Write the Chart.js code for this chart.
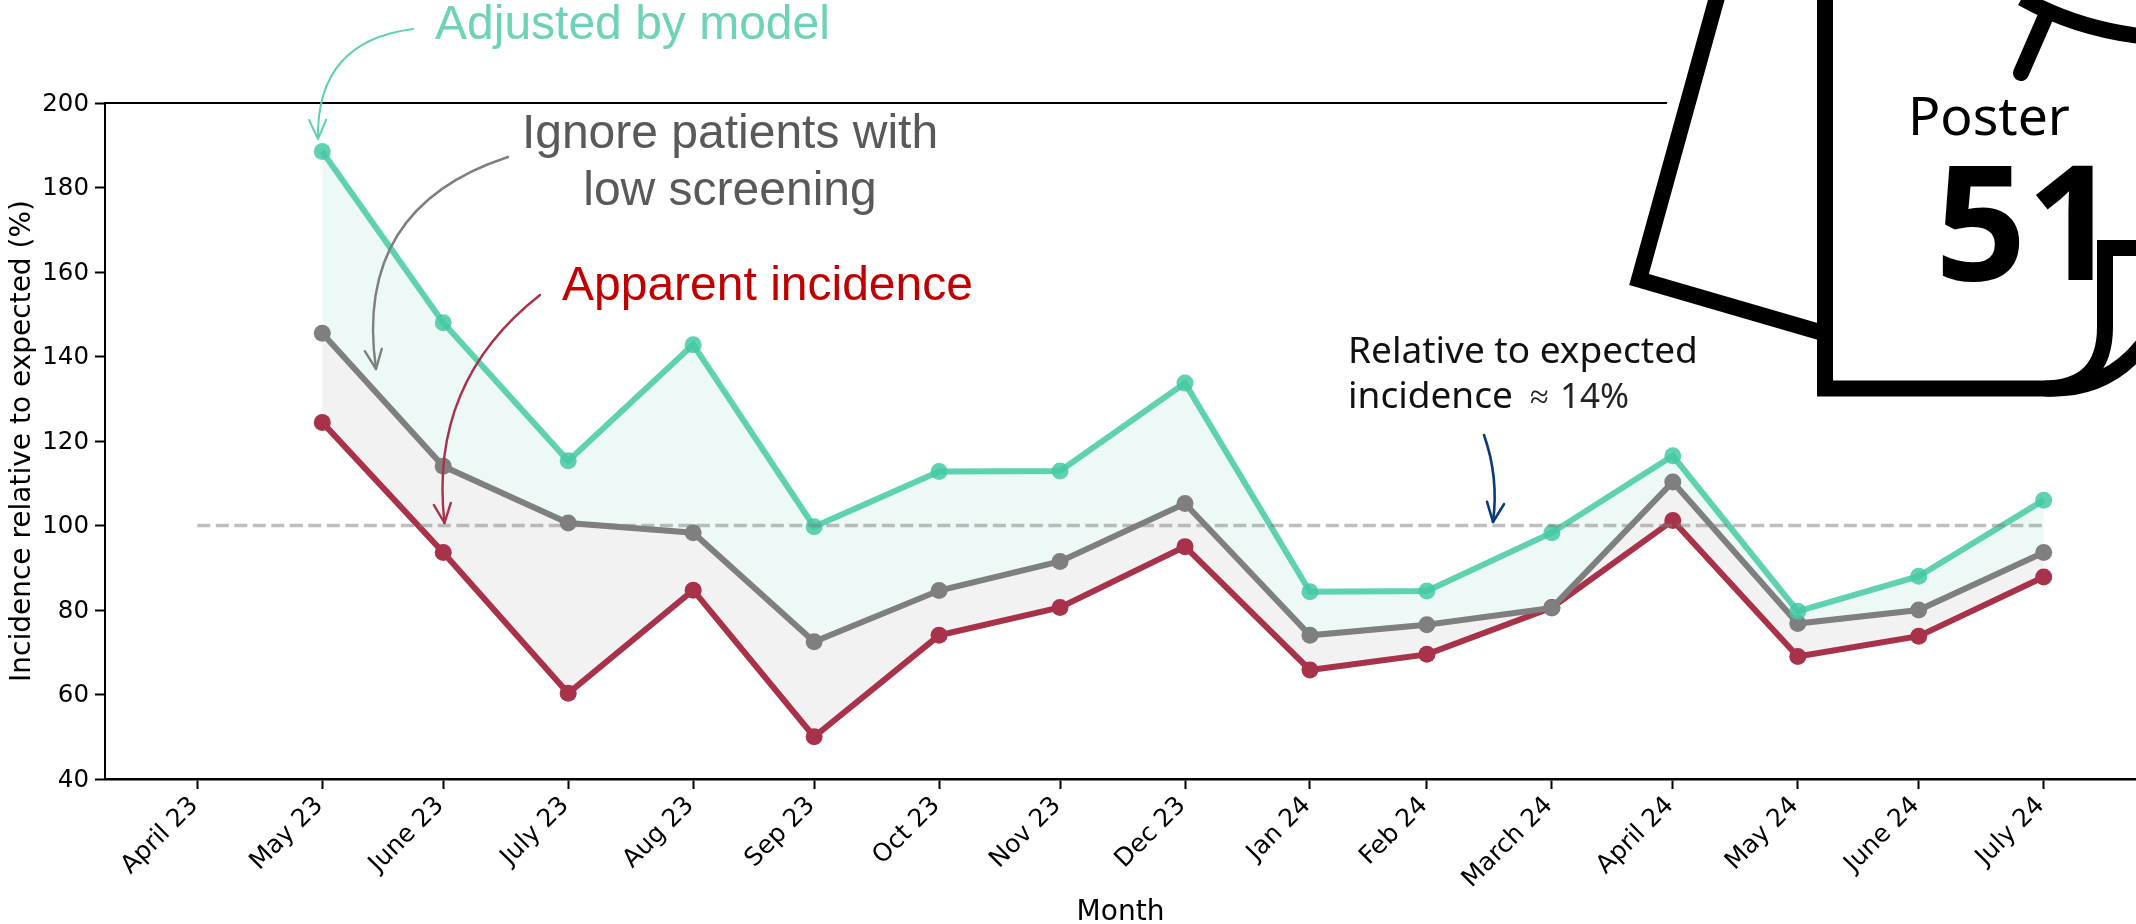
<!DOCTYPE html>
<html><head><meta charset="utf-8">
<style>html,body{margin:0;padding:0;background:#fff}canvas{display:block}</style>
<script src="https://cdn.jsdelivr.net/npm/chart.js@4"></script>
</head><body><canvas id="c" width="2136" height="924"></canvas>
<script>
const monthLabels=['April 23','May 23','June 23','July 23','Aug 23','Sep 23','Oct 23','Nov 23','Dec 23','Jan 24','Feb 24','March 24','April 24','May 24','June 24','July 24'];
const monthDays=[0,31,61,92,123,153,184,214,245,276,305,336,366,397,427,458];
const adjusted=[188.5,148,115.3,142.8,99.7,112.8,112.9,133.7,84.3,84.5,98.3,116.5,79.7,88,106];
const ignoreLow=[145.5,114,100.6,98.3,72.5,84.6,91.5,105.2,74,76.5,80.5,110.3,76.8,80,93.6];
const apparent=[124.4,93.6,60.3,84.7,50,74,80.6,95,65.8,69.5,80.6,101.2,69,73.8,87.8];
const reference=[100,100];
const pts=a=>a.map((y,i)=>({x:monthDays[i+1],y}));
const GREEN='rgba(68,201,163,0.85)',GRAY='#7f7f7f',RED='#a8324a';
function arrow(ctx,sx,sy,ex,ey,r,color,w,hl){
  const mx=(sx+ex)/2,my=(sy+ey)/2,dx=ex-sx,dy=ey-sy;
  const cx=mx-dy*r,cy=my+dx*r;
  ctx.save();ctx.strokeStyle=color;ctx.lineWidth=w;ctx.lineCap='round';ctx.lineJoin='round';
  ctx.beginPath();ctx.moveTo(sx,sy);ctx.quadraticCurveTo(cx,cy,ex,ey);ctx.stroke();
  const a=Math.atan2(ey-cy,ex-cx),s=0.42;
  ctx.beginPath();
  ctx.moveTo(ex-hl*Math.cos(a-s),ey-hl*Math.sin(a-s));ctx.lineTo(ex,ey);
  ctx.lineTo(ex-hl*Math.cos(a+s),ey-hl*Math.sin(a+s));ctx.stroke();ctx.restore();
}
const overlay={id:'overlay',afterDraw(chart){
  const ctx=chart.ctx,{left,right,top}=chart.chartArea;
  ctx.save();
  ctx.strokeStyle='#000';ctx.lineWidth=2;ctx.beginPath();ctx.moveTo(left-1,top);ctx.lineTo(right,top);ctx.stroke();
  const back=new Path2D('M1719 -10 L1639 279.5 L1830 335 L1830 -10 Z');
  const front=new Path2D('M1825 -10 L1825 388.5 L2043 388.5 Q2105 388.5 2105 327 L2105 248 L2150 248 L2150 -10 Z');
  ctx.lineJoin='miter';ctx.lineCap='butt';
  ctx.strokeStyle='#fff';ctx.lineWidth=40;ctx.stroke(back);ctx.stroke(front);
  ctx.fillStyle='#fff';ctx.fill(back);ctx.fill(front);
  ctx.strokeStyle='#000';ctx.lineWidth=16;ctx.stroke(back);ctx.fillStyle='#fff';ctx.fill(front);ctx.stroke(front);
  ctx.beginPath();ctx.moveTo(2045,388.5);ctx.quadraticCurveTo(2112,392,2150,335);ctx.stroke();
  ctx.beginPath();ctx.moveTo(2022,-2);ctx.quadraticCurveTo(2075,28,2140,36);ctx.stroke();
  ctx.lineCap='round';ctx.beginPath();ctx.moveTo(2045,18);ctx.lineTo(2021,73);ctx.stroke();
  ctx.fillStyle='#000';ctx.textBaseline='alphabetic';ctx.textAlign='left';
  ctx.font='53.5px "Noto Sans"';ctx.fillText('Poster',1908,135);
  ctx.font='bold 160px "Noto Sans"';ctx.fillText('51',1935,280);
  ctx.font='48px "Liberation Sans"';
  ctx.fillStyle='#6ed2b7';ctx.fillText('Adjusted by model',435,39);
  ctx.fillStyle='#c00000';ctx.fillText('Apparent incidence',562,300);
  ctx.fillStyle='#595959';ctx.textAlign='center';
  ctx.fillText('Ignore patients with',730,148);ctx.fillText('low screening',730,205);
  ctx.textAlign='left';ctx.fillStyle='#111';ctx.font='37px "Noto Sans"';
  ctx.fillText('Relative to expected',1348,363);
  ctx.fillText('incidence',1348,408);
  ctx.fillStyle='#222';ctx.font='34px "Noto Sans"';ctx.fillText('≈',1530,408);
  ctx.font='35px "Noto Sans"';ctx.fillText('14%',1560,408);
  ctx.restore();
  arrow(ctx,413,29,318,139,0.45,'#5fd0b0',2,21);
  arrow(ctx,508,157,376,369,0.42,GRAY,2.4,21);
  arrow(ctx,540,295,444.5,523,0.28,RED,2.4,21);
  arrow(ctx,1484,435,1493,522,-0.12,'#0a3a78',2.6,21);
}};
new Chart(document.getElementById('c'),{
  type:'line',
  data:{datasets:[
    {label:'Expected',data:[{x:monthDays[0],y:reference[0]},{x:monthDays[15],y:reference[1]}],borderColor:'rgba(128,128,128,0.5)',borderWidth:3.5,borderDash:[13,5.5],pointRadius:0,fill:false},
    {label:'Adjusted by model',data:pts(adjusted),borderColor:GREEN,backgroundColor:'rgba(68,201,163,0.1)',pointBackgroundColor:GREEN,borderWidth:6,pointRadius:8.5,pointBorderWidth:0,fill:'+1',tension:0},
    {label:'Ignore patients with low screening',data:pts(ignoreLow),borderColor:GRAY,backgroundColor:'#f2f2f2',pointBackgroundColor:GRAY,borderWidth:6,pointRadius:8.5,pointBorderWidth:0,fill:'+1',tension:0},
    {label:'Apparent incidence',data:pts(apparent),borderColor:RED,pointBackgroundColor:RED,borderWidth:6,pointRadius:8.5,pointBorderWidth:0,fill:false,tension:0}
  ]},
  options:{
    responsive:false,animation:false,
    layout:{autoPadding:false,padding:{top:103,left:0,right:0,bottom:0}},
    plugins:{legend:{display:false},tooltip:{enabled:false},filler:{drawTime:'beforeDatasetsDraw'}},
    scales:{
      x:{type:'linear',min:-22.9,max:480.9,
        afterBuildTicks(s){s.ticks=monthDays.map(v=>({value:v}));},
        afterFit(s){s.height=145;s.paddingLeft=0;s.paddingRight=0;},
        grid:{drawOnChartArea:false,drawTicks:true,tickLength:10,tickWidth:2,tickColor:'#000'},
        border:{color:'#000',width:2.5},
        ticks:{autoSkip:false,minRotation:45,maxRotation:45,padding:2,labelOffset:-3,color:'#000',font:{family:'DejaVu Sans',size:25},
          callback(v){return monthLabels[monthDays.indexOf(v)];}},
        title:{display:true,text:'Month',color:'#000',font:{family:'DejaVu Sans',size:28},padding:{top:0,bottom:-6}}
      },
      y:{min:40,max:200,
        afterFit(s){s.width=105;s.paddingTop=0;s.paddingBottom=0;},
        grid:{drawOnChartArea:false,drawTicks:true,tickLength:10,tickWidth:2,tickColor:'#000'},
        border:{color:'#000',width:2},
        ticks:{stepSize:20,padding:6,labelOffset:1.5,color:'#000',font:{family:'DejaVu Sans',size:24.5}},
        title:{display:true,text:'Incidence relative to expected (%)',color:'#000',font:{family:'DejaVu Sans',size:28},padding:{top:6,bottom:0}}
      }
    }
  },
  plugins:[overlay]
});
</script></body></html>
